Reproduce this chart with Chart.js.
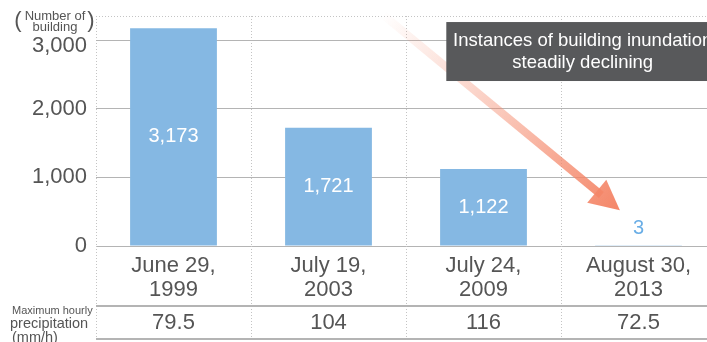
<!DOCTYPE html>
<html>
<head>
<meta charset="utf-8">
<script src="https://cdn.jsdelivr.net/npm/chart.js@4"></script>
<style>
  html, body { margin:0; padding:0; background:#fff; overflow:hidden; }
  #wrap { position:relative; width:720px; height:342px; }
</style>
</head>
<body>
<div id="wrap"><canvas id="floodChart"></canvas></div>
<script>
const dates = [['June 29,', '1999'], ['July 19,', '2003'], ['July 24,', '2009'], ['August 30,', '2013']];
const buildings = [3173, 1721, 1122, 3];
const maxHourlyRain = ['79.5', '104', '116', '72.5'];
const yTicks = [0, 1000, 2000, 3000];
const yTop = 3350;

const textGrey = '#555555';
const barBlue = '#85b8e3';
const smallLabelBlue = '#6aaee6';
const lineGrey = '#b4b4b4';
const dotGrey = '#c4c4c4';
const arrowRGB = '244,134,104';
const FONT = "'Liberation Sans', Arial, sans-serif";

// arrow and callout box, placed in (category index, building count) units
const arrowFrom = {x: 1.35, y: 3370};
const arrowTo = {x: 2.88, y: 520};
const callout = {x0: 1.76, x1: 3.52, y0: 3262, y1: 2403};

Chart.defaults.font.family = FONT;

const fmt = v => v.toLocaleString('en-US');

// extra drawing: bar values, the rainfall row, y title, dotted frame, arrow + note
const extras = {
  id: 'extras',
  afterDraw(chart) {
    const {ctx, chartArea: ca, scales: {x: xs, y: ys}} = chart;
    const H = chart.height;
    ctx.save();

    // dotted frame: top edge and divider lines down through the table
    ctx.strokeStyle = dotGrey;
    ctx.lineWidth = 1;
    ctx.setLineDash([1, 2]);
    ctx.beginPath();
    ctx.moveTo(ca.left, ca.top + 0.5);
    ctx.lineTo(ca.right, ca.top + 0.5);
    for (let i = 0; i <= dates.length; i++) {
      const bx = Math.round(xs.getPixelForValue(i - 0.5)) + 0.5;
      ctx.moveTo(bx, ca.bottom);
      ctx.lineTo(bx, H);
    }
    ctx.stroke();
    ctx.setLineDash([]);

    // table row lines
    ctx.strokeStyle = lineGrey;
    ctx.lineWidth = 2;
    ctx.beginPath();
    ctx.moveTo(ca.left, ca.bottom + 60);
    ctx.lineTo(ca.right, ca.bottom + 60);
    ctx.moveTo(ca.left, ca.bottom + 93);
    ctx.lineTo(ca.right, ca.bottom + 93);
    ctx.stroke();

    // rainfall values
    ctx.fillStyle = textGrey;
    ctx.textAlign = 'center';
    ctx.textBaseline = 'middle';
    ctx.font = '22px ' + FONT;
    maxHourlyRain.forEach((v, i) => {
      ctx.fillText(v, xs.getPixelForValue(i), ca.bottom + 77);
    });

    // row caption
    ctx.textAlign = 'left';
    ctx.font = '11px ' + FONT;
    ctx.fillText('Maximum hourly', 12, ca.bottom + 65);
    ctx.font = '14.5px ' + FONT;
    ctx.fillText('precipitation', 10, ca.bottom + 78);
    ctx.fillText('(mm/h)', 12, ca.bottom + 92);

    // y title
    ctx.textAlign = 'center';
    ctx.textBaseline = 'alphabetic';
    ctx.font = '13px ' + FONT;
    ctx.fillText('Number of', 55, 20);
    ctx.fillText('building', 55, 31);
    ctx.textBaseline = 'middle';
    ctx.font = '22px ' + FONT;
    ctx.fillText('(', 18, 21);
    ctx.fillText(')', 91, 21);

    // bar values
    chart.getDatasetMeta(0).data.forEach((bar, i) => {
      const h = bar.base - bar.y;
      ctx.font = '20px ' + FONT;
      if (h > 30) {
        ctx.fillStyle = '#ffffff';
        ctx.fillText(fmt(buildings[i]), bar.x, (bar.y + bar.base) / 2);
      } else {
        ctx.fillStyle = smallLabelBlue;
        ctx.fillText(fmt(buildings[i]), bar.x, bar.y - 17);
      }
    });

    // fading arrow
    const x1 = xs.getPixelForValue(arrowFrom.x), y1 = ys.getPixelForValue(arrowFrom.y);
    const x2 = xs.getPixelForValue(arrowTo.x), y2 = ys.getPixelForValue(arrowTo.y);
    const ang = Math.atan2(y2 - y1, x2 - x1);
    const headLen = 30, headHalf = 15;
    const grad = ctx.createLinearGradient(x1, y1, x2, y2);
    grad.addColorStop(0, 'rgba(' + arrowRGB + ',0)');
    grad.addColorStop(0.5, 'rgba(' + arrowRGB + ',0.45)');
    grad.addColorStop(1, 'rgba(' + arrowRGB + ',1)');
    const sx = x2 - Math.cos(ang) * headLen * 0.8, sy = y2 - Math.sin(ang) * headLen * 0.8;
    ctx.strokeStyle = grad;
    ctx.lineWidth = 8;
    ctx.beginPath();
    ctx.moveTo(x1, y1);
    ctx.lineTo(sx, sy);
    ctx.stroke();
    const bx = x2 - Math.cos(ang) * headLen, by = y2 - Math.sin(ang) * headLen;
    ctx.fillStyle = grad;
    ctx.beginPath();
    ctx.moveTo(x2, y2);
    ctx.lineTo(bx + Math.sin(ang) * headHalf, by - Math.cos(ang) * headHalf);
    ctx.lineTo(bx - Math.sin(ang) * headHalf, by + Math.cos(ang) * headHalf);
    ctx.closePath();
    ctx.fill();

    // callout
    const cx0 = xs.getPixelForValue(callout.x0), cx1 = xs.getPixelForValue(callout.x1);
    const cy0 = ys.getPixelForValue(callout.y0), cy1 = ys.getPixelForValue(callout.y1);
    ctx.fillStyle = '#58595b';
    ctx.fillRect(cx0, cy0, cx1 - cx0, cy1 - cy0);
    ctx.fillStyle = '#ffffff';
    ctx.font = '18.5px ' + FONT;
    const cmx = (cx0 + cx1) / 2, cmy = (cy0 + cy1) / 2;
    ctx.fillText('Instances of building inundation', cmx, cmy - 11);
    ctx.fillText('steadily declining', cmx, cmy + 11);

    ctx.restore();
  }
};

new Chart(document.getElementById('floodChart'), {
  type: 'bar',
  plugins: [extras],
  data: {
    labels: dates,
    datasets: [{
      data: buildings,
      backgroundColor: barBlue,
      borderWidth: 0,
      categoryPercentage: 1,
      barPercentage: 0.56
    }]
  },
  options: {
    responsive: true,
    maintainAspectRatio: false,
    animation: false,
    events: [],
    layout: {padding: {top: 16, right: 4, left: 0, bottom: 0}},
    plugins: {legend: {display: false}, tooltip: {enabled: false}},
    scales: {
      x: {
        offset: true,
        grid: {offset: true, color: dotGrey, drawTicks: false},
        border: {display: true, color: lineGrey, dash: [1, 2]},
        ticks: {color: textGrey, font: {size: 22, lineHeight: 1.1}, padding: 8, maxRotation: 0, autoSkip: false},
        afterFit: s => { s.height = 96; }
      },
      y: {
        min: 0,
        max: yTop,
        grid: {color: lineGrey, drawTicks: false},
        border: {display: false},
        // the top label gets an empty first line so it sits a little under its line
        ticks: {
          autoSkip: false, color: textGrey, font: {size: 22, lineHeight: 0.5}, padding: 9,
          callback: v => v === yTicks[yTicks.length - 1] ? ['', fmt(v)] : fmt(v)
        },
        afterBuildTicks: s => { s.ticks = yTicks.map(v => ({value: v})); },
        // fixed width, and no label padding pushing the plot top down
        afterFit: s => { s.width = 96; s.paddingTop = 0; s.paddingBottom = 0; }
      }
    }
  }
});
</script>
</body>
</html>
